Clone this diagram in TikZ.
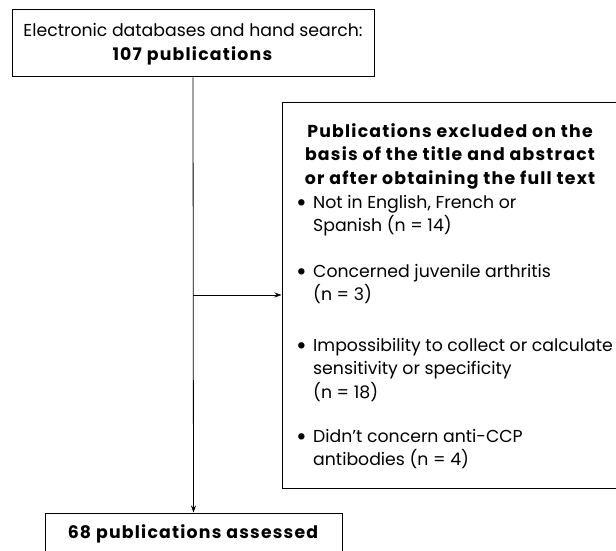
\documentclass[tikz,border=0pt]{standalone}
\usepackage{fontspec}
\setmainfont{Poppins}[BoldFeatures={LetterSpace=7}]
\usetikzlibrary{arrows.meta}
\tikzset{
  box/.style={draw=black, line width=1pt, inner sep=0pt},
  txt/.style={inner sep=0pt, font=\fontsize{17.3}{23.5}\selectfont},
  btxt/.style={inner sep=0pt, font=\fontsize{17.3}{23.5}\selectfont\bfseries},
  conn/.style={draw=black, line width=0.8pt},
  tip/.style={-{Stealth[length=7pt,width=5pt]}}
}
\newcommand{\bul}{\makebox[17pt][l]{\raisebox{-2.8pt}{\scalebox{1.5}{•}}}}
\newcommand{\ind}{\hspace*{17pt}}
\begin{document}
\begin{tikzpicture}[x=1pt,y=-1pt]
\useasboundingbox (0,0) rectangle (616,551);
\clip (0,0) rectangle (616,551);
% boxes
\node[box, minimum width=362pt, minimum height=67pt] (top) at (193,43.5) {};
\node[box, minimum width=338pt, minimum height=386pt] (excl) at (451,295) {};
\node[box, minimum width=297pt, minimum height=40pt] (final) at (193.5,533) {};
% texts
\node[txt, align=center] (toptxt) at (193,44) {Electronic databases and hand search:\\\textbf{107 publications}};
\node[btxt, align=center] (title) at (450,156) {Publications excluded on the\\basis of the title and abstract\\or after obtaining the full text};
\node[txt, align=left, anchor=north west] (b1) at (296,195) {\bul Not in English, French or\\\ind Spanish (n = 14)};
\node[txt, align=left, anchor=north west] (b2) at (296,264) {\bul Concerned juvenile arthritis\\\ind (n = 3)};
\node[txt, align=left, anchor=north west] (b3) at (296,338) {\bul Impossibility to collect or calculate\\\ind sensitivity or specificity\\\ind (n = 18)};
\node[txt, align=left, anchor=north west] (b4) at (296,429) {\bul Didn't concern anti-CCP\\\ind antibodies (n = 4)};
\node[btxt] (finaltxt) at (193,534) {68 publications assessed};
% connectors
\coordinate (split) at (top.south |- excl.west);
\draw[conn, tip] (top.south) -- (final.north);
\draw[conn, tip] (split) -- (excl.west);
\end{tikzpicture}
\end{document}
